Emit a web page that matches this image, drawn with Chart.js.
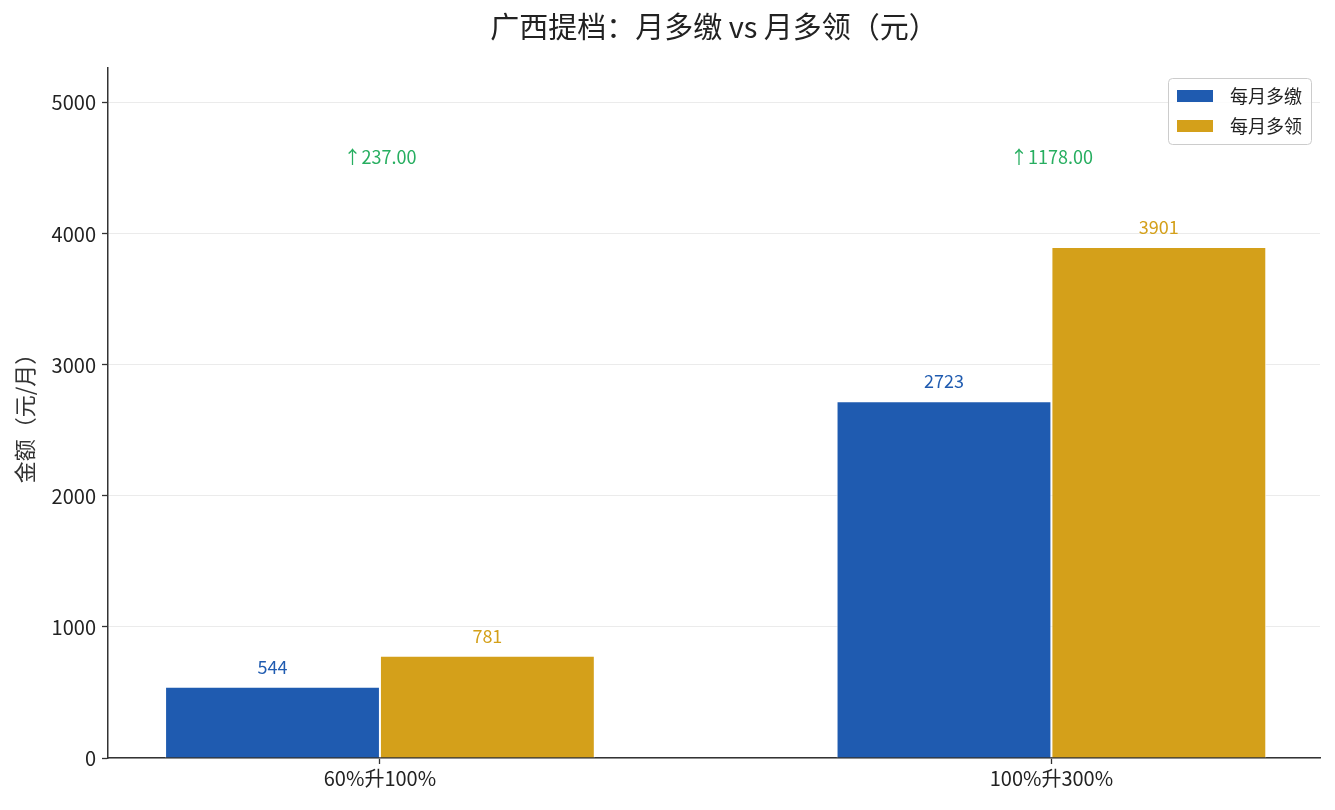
<!DOCTYPE html>
<html>
<head>
<meta charset="utf-8">
<script src="https://cdn.jsdelivr.net/npm/chart.js@4"></script>
<style>
    html, body { margin: 0; padding: 0; background: #fff; }
    #wrap { width: 1335px; height: 810px; position: relative; }
</style>
</head>
<body>
<div id="wrap"><canvas id="owwc-chart"></canvas></div>
<script>
const categories = ['60%升100%', '100%升300%'];
const payMore = [544, 2723];
const receiveMore = [781, 3901];
const yTicks = [0, 1000, 2000, 3000, 4000, 5000];
const seriesNames = ['每月多缴', '每月多领'];
const seriesColors = ['#1f5bb0', '#d4a01a'];

const FONT = '"Noto Sans CJK SC", "Noto Sans", sans-serif';
const maxVal = Math.max(...payMore, ...receiveMore);

document.addEventListener('DOMContentLoaded', function () {
    const ctx = document.getElementById('owwc-chart');

    // label angka di atas bar, selisih, judul dan legend
    const overlay = {
        id: 'overlay',
        afterDraw(chart) {
            const c = chart.ctx;
            const area = chart.chartArea;
            const yScale = chart.scales.y;
            const xScale = chart.scales.x;

            c.save();
            // judul
            c.fillStyle = '#222';
            c.font = '29px ' + FONT;
            c.textAlign = 'center';
            c.textBaseline = 'middle';
            c.fillText('广西提档：月多缴 vs 月多领（元）', (area.left + area.right) / 2, 27);

            // nilai di atas bar
            c.font = '18px ' + FONT;
            c.textBaseline = 'bottom';
            chart.data.datasets.forEach((ds, di) => {
                const meta = chart.getDatasetMeta(di);
                meta.data.forEach((bar, i) => {
                    c.fillStyle = seriesColors[di];
                    c.fillText(String(ds.data[i].y), bar.x, bar.y - 11);
                });
            });

            // selisih
            c.fillStyle = '#27ae60';
            c.textBaseline = 'middle';
            const yDiff = yScale.getPixelForValue(maxVal * 1.175);
            categories.forEach((cat, i) => {
                const d = receiveMore[i] - payMore[i];
                c.fillText('↑' + d.toFixed(2), xScale.getPixelForValue(i), yDiff);
            });

            // legend
            const lw = 143, lh = 66;
            const lx = area.right - 9 - lw, ly = area.top + 10;
            c.fillStyle = 'rgba(255,255,255,0.85)';
            c.strokeStyle = '#cccccc';
            c.lineWidth = 1;
            c.beginPath();
            c.roundRect(lx + 0.5, ly + 0.5, lw, lh, 4);
            c.fill();
            c.stroke();
            c.font = '18px ' + FONT;
            c.textAlign = 'left';
            seriesNames.forEach((name, i) => {
                const cy = ly + 18 + i * 30;
                c.fillStyle = seriesColors[i];
                c.fillRect(lx + 9, cy - 6, 36, 12);
                c.fillStyle = '#222';
                c.fillText(name, lx + 62, cy);
            });
            c.restore();
        }
    };

    new Chart(ctx, {
        type: 'bar',
        data: {
            datasets: [
                {
                    label: seriesNames[0],
                    data: payMore.map((v, i) => ({ x: i, y: v })),
                    backgroundColor: seriesColors[0],
                    borderColor: '#ffffff',
                    borderWidth: 1,
                    categoryPercentage: 0.64,
                    barPercentage: 1
                },
                {
                    label: seriesNames[1],
                    data: receiveMore.map((v, i) => ({ x: i, y: v })),
                    backgroundColor: seriesColors[1],
                    borderColor: '#ffffff',
                    borderWidth: 1,
                    categoryPercentage: 0.64,
                    barPercentage: 1
                }
            ]
        },
        options: {
            responsive: true,
            maintainAspectRatio: false,
            animation: false,
            layout: { padding: { left: 0, top: 68, right: 15, bottom: 0 } },
            plugins: {
                legend: { display: false },
                title: { display: false },
                tooltip: { enabled: false }
            },
            scales: {
                x: {
                    type: 'linear',
                    min: -0.405,
                    max: 1.4,
                    offset: false,
                    z: 1,
                    afterBuildTicks(scale) {
                        scale.ticks = categories.map((_, i) => ({ value: i }));
                    },
                    afterFit(scale) { scale.height = 52; },
                    grid: {
                        offset: false,
                        drawOnChartArea: false,
                        drawTicks: true,
                        tickLength: 6,
                        tickColor: '#333',
                        tickWidth: 1.3
                    },
                    border: { color: '#333', width: 1.5 },
                    ticks: {
                        color: '#222',
                        font: { family: FONT, size: 20 },
                        padding: 2,
                        maxRotation: 0,
                        callback: (v) => categories[v]
                    }
                },
                y: {
                    min: 0,
                    max: maxVal * 1.35,
                    z: 1,
                    afterBuildTicks(scale) {
                        scale.ticks = yTicks.map(v => ({ value: v }));
                    },
                    afterFit(scale) { scale.width = 108; },
                    grid: {
                        color: 'rgba(215,215,215,0.5)',
                        lineWidth: 1,
                        drawTicks: true,
                        tickLength: 6,
                        tickColor: '#333',
                        tickWidth: 1.3
                    },
                    border: { color: '#333', width: 1.5 },
                    ticks: {
                        color: '#222',
                        font: { family: FONT, size: 20 },
                        padding: 6,
                        callback: (v) => String(v)
                    },
                    title: {
                        display: true,
                        text: '金额（元/月）',
                        color: '#333',
                        font: { family: FONT, size: 22 },
                        padding: { top: 11, bottom: 0 }
                    }
                }
            }
        },
        plugins: [overlay]
    });
});
</script>
</body>
</html>
